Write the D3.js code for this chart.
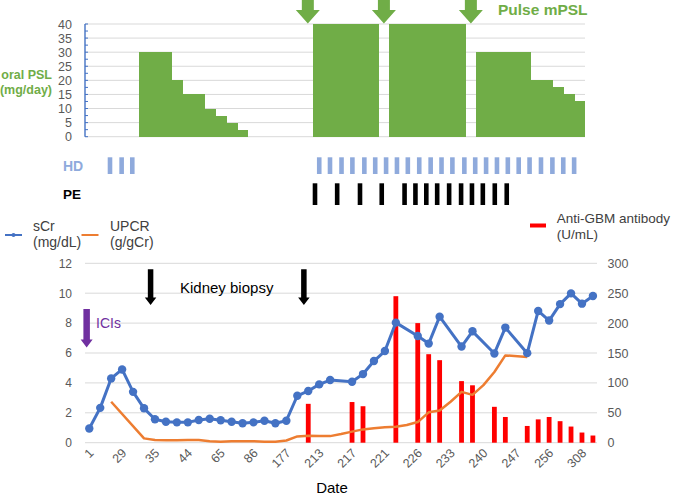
<!DOCTYPE html>
<html>
<head>
<meta charset="utf-8">
<script src="https://cdn.jsdelivr.net/npm/d3@7"></script>
<style>
  body { margin: 0; background: #fff; }
  svg { display: block; font-family: "Liberation Sans", Arial, sans-serif; }
</style>
</head>
<body>
<svg id="chart" width="675" height="496"></svg>
<script>
// ---- top panel: steroid dose per slot (mg/day) ----
const pslDose = [0, 0, 0, 0, 0, 30, 30, 30, 20, 15, 15, 10, 7.5, 5, 2.5, 0, 0, 0, 0, 0, 0,
                 40, 40, 40, 40, 40, 40, 0, 40, 40, 40, 40, 40, 40, 40, 0,
                 30, 30, 30, 30, 30, 20, 20, 17.5, 15, 12.5];
const pulseSlots = [20, 27, 35];   // pulse mPSL arrows
const pslTicks = [0, 5, 10, 15, 20, 25, 30, 35, 40];

// HD / PE sessions (slot position)
const hdPos = [2.3, 3.37, 4.35, 21.55, 22.54, 23.6, 24.6, 25.7, 26.7, 27.7, 28.7, 29.7, 30.75,
               31.8, 32.8, 33.8, 34.9, 35.9, 36.9, 37.9, 38.9, 39.9, 40.9, 41.95, 43.0, 44.0, 45.0];
const pePos = [21.16, 23.2, 25.3, 27.3, 29.4, 30.4, 31.4, 32.4, 33.5, 34.6, 35.6, 36.6, 37.7, 38.8];

// ---- bottom panel: one entry per visit (47) ----
const dateLabels = ["1", "29", "35", "44", "65", "86", "177", "213", "217", "221", "226", "233", "240", "247", "256", "308"];
const labelCats = [0, 3, 6, 9, 12, 15, 18, 21, 24, 27, 30, 33, 36, 39, 42, 45];
const sCr = [0.95, 2.33, 4.3, 4.9, 3.4, 2.3, 1.57, 1.4, 1.36, 1.36, 1.52, 1.6, 1.5, 1.4, 1.3, 1.36,
             1.47, 1.3, 1.47, 3.14, 3.46, 3.9, 4.19, null, 4.08, 4.59, 5.46, 6.13, 8.03, null,
             7.14, 6.63, 8.43, null, 6.43, 7.45, null, 5.97, 7.7, null, 5.99, 8.81, 8.17, 9.27,
             9.99, 9.3, 9.81];
const upcr = [null, null, 2.74, null, null, 0.29, 0.18, 0.16, 0.16, 0.18, 0.18, 0.1, 0.06, 0.1,
              0.1, 0.1, 0.06, 0.06, 0.15, 0.42, 0.47, 0.45, 0.44, 0.58, 0.74, 0.89, 0.97, 1.03,
              1.07, 1.18, 1.38, 2.03, 2.16, 2.74, 3.4, 3.2, 3.85, 4.73, 5.84, null, 5.73,
              null, null, null, null, null, null];
const antiGbm = [null, null, null, null, null, null, null, null, null, null, null, null, null,
                 null, null, null, null, null, null, null, 65, null, null, null, 68, 61, null,
                 null, 245, null, 200, 148, 138, null, 103, 96, null, 60, 43, null, 28, 39, 43,
                 36, 27, 17, 12];
const leftTicks = [0, 2, 4, 6, 8, 10, 12];
const rightTicks = [0, 50, 100, 150, 200, 250, 300];
const biopsyAt = [5.6, 19.6];
const iciAt = -0.24;

const GREEN = "#70AD47", BLUE = "#4472C4", ORANGE = "#ED7D31", RED = "#FF0000",
      HDBLUE = "#8FAADC", GRID = "#D9D9D9", TXT = "#595959", PURPLE = "#7030A0";

const svg = d3.select("#chart");

// ================= TOP PANEL =================
const xTop = d3.scaleBand().domain(d3.range(pslDose.length)).range([85, 585]).padding(0);
const yTop = d3.scaleLinear().domain([0, 40]).range([136.7, 24]);
const xRow = d3.scaleLinear().domain([0, 46]).range([85, 585]);

svg.append("g").selectAll("line").data(pslTicks).join("line")
    .attr("x1", 85).attr("x2", 585)
    .attr("y1", d => yTop(d)).attr("y2", d => yTop(d))
    .attr("stroke", GRID).attr("stroke-width", 1);

svg.append("g").selectAll("rect").data(pslDose).join("rect")
    .attr("x", (d, i) => xTop(i) - 0.4)
    .attr("width", xTop.bandwidth() + 0.8)
    .attr("y", d => yTop(d))
    .attr("height", d => yTop(0) - yTop(d))
    .attr("fill", GREEN)
    .attr("shape-rendering", "crispEdges");

// axis with small ticks every 2.5
const yTopAxis = d3.axisLeft(yTop).tickValues(pslTicks).tickSize(0).tickPadding(13);
const gTopAx = svg.append("g").attr("transform", "translate(85,0)").call(yTopAxis);
gTopAx.select(".domain").remove();
gTopAx.selectAll("text").attr("fill", TXT).style("font-size", "12.5px")
    .style("font-family", "Liberation Sans, Arial, sans-serif");
svg.append("line").attr("x1", 85).attr("x2", 85).attr("y1", yTop(40)).attr("y2", yTop(0))
    .attr("stroke", BLUE).attr("stroke-width", 1.4);
svg.append("g").selectAll("line").data(d3.range(0, 40.1, 2.5)).join("line")
    .attr("x1", 85).attr("x2", 88)
    .attr("y1", d => yTop(d)).attr("y2", d => yTop(d))
    .attr("stroke", BLUE).attr("stroke-width", 1);

svg.append("text").attr("x", 52).attr("y", 78.5).attr("text-anchor", "end")
    .attr("fill", GREEN).style("font-size", "12.5px").style("font-weight", "bold").text("oral PSL");
svg.append("text").attr("x", 52).attr("y", 93.5).attr("text-anchor", "end")
    .attr("fill", GREEN).style("font-size", "12.5px").style("font-weight", "bold").text("(mg/day)");

// pulse arrows
function downArrow(cx, top, tip, headStart, shaftW, headW) {
    return `M${cx - shaftW / 2},${top} L${cx + shaftW / 2},${top} L${cx + shaftW / 2},${headStart} ` +
           `L${cx + headW / 2},${headStart} L${cx},${tip} L${cx - headW / 2},${headStart} ` +
           `L${cx - shaftW / 2},${headStart} Z`;
}
svg.append("g").selectAll("path").data(pulseSlots).join("path")
    .attr("d", d => downArrow(xTop(d) + xTop.bandwidth() / 2, -2, 23.5, 10, 12, 24))
    .attr("fill", GREEN);
svg.append("text").attr("x", 498).attr("y", 14.5).attr("fill", GREEN)
    .style("font-size", "15.5px").style("font-weight", "bold").text("Pulse mPSL");

// HD / PE rows
svg.append("text").attr("x", 63).attr("y", 170.5).attr("fill", HDBLUE)
    .style("font-size", "14px").style("font-weight", "bold").text("HD");
svg.append("g").selectAll("rect").data(hdPos).join("rect")
    .attr("x", d => xRow(d) - 2.3).attr("width", 4.6)
    .attr("y", 157.3).attr("height", 16.7).attr("fill", HDBLUE);
svg.append("text").attr("x", 63).attr("y", 199.3).attr("fill", "#000")
    .style("font-size", "13.5px").style("font-weight", "bold").text("PE");
svg.append("g").selectAll("rect").data(pePos).join("rect")
    .attr("x", d => xRow(d) - 2.3).attr("width", 4.6)
    .attr("y", 183.3).attr("height", 21.7).attr("fill", "#000");

// ================= LEGEND =================
const legTxt = "#404040";
svg.append("line").attr("x1", 5).attr("x2", 22).attr("y1", 235).attr("y2", 235)
    .attr("stroke", BLUE).attr("stroke-width", 2);
svg.append("circle").attr("cx", 13.5).attr("cy", 235).attr("r", 2).attr("fill", BLUE);
svg.append("text").attr("x", 33).attr("y", 230.5).attr("fill", legTxt).style("font-size", "14px").text("sCr");
svg.append("text").attr("x", 33).attr("y", 246.5).attr("fill", legTxt).style("font-size", "14px").text("(mg/dL)");
svg.append("line").attr("x1", 81.5).attr("x2", 98.5).attr("y1", 235).attr("y2", 235)
    .attr("stroke", ORANGE).attr("stroke-width", 2);
svg.append("text").attr("x", 110).attr("y", 230.5).attr("fill", legTxt).style("font-size", "14px").text("UPCR");
svg.append("text").attr("x", 110).attr("y", 246.5).attr("fill", legTxt).style("font-size", "14px").text("(g/gCr)");
svg.append("rect").attr("x", 530).attr("y", 223.5).attr("width", 16).attr("height", 4).attr("fill", RED);
svg.append("text").attr("x", 556.7).attr("y", 222.5).attr("fill", legTxt).style("font-size", "13.5px").text("Anti-GBM antibody");
svg.append("text").attr("x", 556.7).attr("y", 238.5).attr("fill", legTxt).style("font-size", "13.5px").text("(U/mL)");

// ================= BOTTOM PANEL =================
const xCat = d3.scaleBand().domain(d3.range(sCr.length)).range([83.8, 598.4]).padding(0);
const xIdx = d3.scaleLinear().domain([-0.5, sCr.length - 0.5]).range([83.8, 598.4]);
const yL = d3.scaleLinear().domain([0, 12]).range([442.7, 263.3]);
const yR = d3.scaleLinear().domain([0, 300]).range([442.7, 263.3]);
const cx = i => xCat(i) + xCat.bandwidth() / 2;

// gridlines + left axis
const gLeft = svg.append("g").attr("transform", "translate(85,0)")
    .call(d3.axisLeft(yL).tickValues(leftTicks).tickSize(0).tickPadding(13));
gLeft.select(".domain").remove();
gLeft.selectAll("text").attr("fill", TXT).style("font-size", "12px")
    .style("font-family", "Liberation Sans, Arial, sans-serif");
svg.append("g").selectAll("line").data(leftTicks).join("line")
    .attr("x1", 85).attr("x2", 597)
    .attr("y1", d => yL(d)).attr("y2", d => yL(d))
    .attr("stroke", GRID).attr("stroke-width", 1);

const gRight = svg.append("g").attr("transform", "translate(597,0)")
    .call(d3.axisRight(yR).tickValues(rightTicks).tickSize(0).tickPadding(10.5));
gRight.select(".domain").remove();
gRight.selectAll("text").attr("fill", TXT).style("font-size", "12.5px")
    .style("font-family", "Liberation Sans, Arial, sans-serif");

// x labels
const gX = svg.append("g").attr("transform", "translate(0,442.7)")
    .call(d3.axisBottom(xCat).tickValues(labelCats)
        .tickFormat(i => dateLabels[labelCats.indexOf(i)]).tickSize(0));
gX.select(".domain").remove();
gX.selectAll("text")
    .attr("fill", TXT).style("font-size", "12.5px")
    .style("font-family", "Liberation Sans, Arial, sans-serif")
    .attr("text-anchor", "end")
    .attr("transform", "translate(2,8) rotate(-45)")
    .attr("x", 0).attr("y", 0).attr("dy", "0.35em");

svg.append("text").attr("x", 332).attr("y", 492.5).attr("text-anchor", "middle")
    .attr("fill", "#000").style("font-size", "15px").text("Date");

// anti-GBM bars
svg.append("g").selectAll("rect")
    .data(antiGbm.map((v, i) => ({ i, v })).filter(d => d.v != null)).join("rect")
    .attr("x", d => cx(d.i) - 2.4).attr("width", 4.8)
    .attr("y", d => yR(d.v)).attr("height", d => yR(0) - yR(d.v))
    .attr("fill", RED);

// UPCR line
const upData = upcr.map((v, i) => ({ i, v })).filter(d => d.v != null);
svg.append("path").datum(upData)
    .attr("d", d3.line().x(d => cx(d.i)).y(d => yL(d.v)))
    .attr("fill", "none").attr("stroke", ORANGE).attr("stroke-width", 2.5)
    .attr("stroke-linejoin", "round");

// sCr line
const crData = sCr.map((v, i) => ({ i, v })).filter(d => d.v != null);
svg.append("path").datum(crData)
    .attr("d", d3.line().x(d => cx(d.i)).y(d => yL(d.v)))
    .attr("fill", "none").attr("stroke", BLUE).attr("stroke-width", 3)
    .attr("stroke-linejoin", "round");
svg.append("g").selectAll("circle").data(crData).join("circle")
    .attr("cx", d => cx(d.i)).attr("cy", d => yL(d.v)).attr("r", 4.2).attr("fill", BLUE);

// annotations
svg.append("g").selectAll("path").data(biopsyAt).join("path")
    .attr("d", d => downArrow(xIdx(d), 269.3, 305, 297.5, 5.5, 11.5))
    .attr("fill", "#000");
svg.append("text").attr("x", 180).attr("y", 292.7).attr("fill", "#000")
    .style("font-size", "15px").text("Kidney biopsy");

svg.append("path").attr("d", downArrow(xIdx(iciAt), 309, 347.5, 339.5, 6.5, 12))
    .attr("fill", PURPLE);
svg.append("text").attr("x", 96).attr("y", 328.3).attr("fill", PURPLE)
    .style("font-size", "14px").text("ICIs");
</script>
</body>
</html>
